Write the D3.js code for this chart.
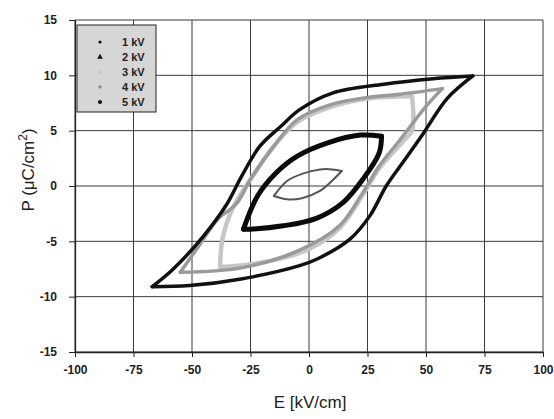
<!DOCTYPE html>
<meta charset="utf-8">
<script src="https://d3js.org/d3.v7.min.js"></script>
<style type="text/css">
  body { margin: 0; background: #fff; }
  text { font-family: "Liberation Sans", Arial, sans-serif; }
</style>
<body>
<svg width="554" height="419"></svg>
<script>

    // tick values
    let xTicks = [-100, -75, -50, -25, 0, 25, 50, 75, 100],
        yTicks = [-15, -10, -5, 0, 5, 10, 15]

    // loops: [E kV/cm, P uC/cm2], from the negative tip round the loop
    let loop1kV = [[-15,-0.9],[-9.4,0.45],[-3,1.1],[4.7,1.5],[10,1.5],[14,1.35],
                   [10,0.5],[4.7,-0.45],[-3,-1.1],[-9.4,-1.2],[-15,-0.9]]
    let loop2kV = [[-28,-3.9],[-22,-0.9],[-14,1.2],[-5,2.7],[8,3.9],[22,4.6],[31,4.5],
                   [30,3.0],[23,0.6],[14.5,-1.5],[3.4,-2.9],[-11,-3.6],[-25,-3.9],[-28,-3.9]]
    let loop3kV = [[-38,-7.3],[-37,-4.8],[-33,-2.2],[-25,0.6],[-15,3.6],[-5,5.8],[10,7.2],[25,7.9],[44,8.1],
                   [44,5.0],[40,4.0],[30,1.6],[23,-0.8],[13,-3.8],[0,-5.7],[-15,-6.7],[-30,-7.2],[-38,-7.3]]
    let loop4kV = [[-55,-7.8],[-48,-5.7],[-39,-3.0],[-31,-1.6],[-25,0.6],[-15,3.6],[-5,6.0],[10,7.4],[25,8.0],[39,8.3],[57,8.8],
                   [50,7.2],[39,4.2],[30,1.8],[23,-0.6],[13,-3.6],[-4,-5.8],[-29,-7.4],[-55,-7.8]]
    let loop5kV = [[-67,-9.1],[-58,-7.5],[-45,-4.5],[-35,-1.6],[-29,0.8],[-21,3.6],[-12,5.4],[-4,6.9],[10,8.4],[32,9.2],[53,9.7],[70,9.95],
                   [59,7.9],[49,4.8],[40,2.1],[33,0],[26,-2.7],[17.5,-4.8],[3.5,-6.6],[-4,-7.2],[-29,-8.4],[-51,-9.0],[-67,-9.1]]

    let seriesNames = ['1 kV', '2 kV', '3 kV', '4 kV', '5 kV']

    let svg = d3.select('svg'),
        mLeft = 75, mRight = 543, mTop = 20, mBottom = 352

    let x = d3.scaleLinear().domain([-100, 100]).range([mLeft, mRight]),
        y = d3.scaleLinear().domain([-15, 15]).range([mBottom, mTop])

    let g = svg.append('g')

    // grid
    g.selectAll('line.vg').data(xTicks).enter().append('line')
        .attr('x1', d=>x(d)).attr('x2', d=>x(d))
        .attr('y1', mTop).attr('y2', mBottom)
        .style('stroke', '#3a3a3a').style('stroke-width', 1)
    g.selectAll('line.hg').data(yTicks).enter().append('line')
        .attr('x1', mLeft).attr('x2', mRight)
        .attr('y1', d=>y(d)).attr('y2', d=>y(d))
        .style('stroke', '#3a3a3a').style('stroke-width', 1)

    // axes (plain hyphen minus like the original)
    let fmt = d => String(d)
    let xAxis = svg.append('g').attr('transform', `translate(0,${mBottom})`)
        .call(d3.axisBottom(x).tickValues(xTicks).tickFormat(fmt).tickSize(5).tickPadding(8).tickSizeOuter(0))
    let yAxis = svg.append('g').attr('transform', `translate(${mLeft},0)`)
        .call(d3.axisLeft(y).tickValues(yTicks).tickFormat(fmt).tickSize(6).tickPadding(12).tickSizeOuter(0))

    svg.selectAll('.domain').style('stroke', '#222').style('stroke-width', 1.3)
    svg.selectAll('.tick line').style('stroke', '#222')
    svg.selectAll('.tick text')
        .style('font-family', '"Liberation Sans", Arial, sans-serif')
        .style('font-size', '12px').style('font-weight', 'bold').style('fill', '#222')

    // loops
    let styles = {
        '1 kV': {color: '#555', width: 2},
        '2 kV': {color: '#0a0a0a', width: 5},
        '3 kV': {color: '#c6c6c6', width: 4.5},
        '4 kV': {color: '#9a9a9a', width: 3.5},
        '5 kV': {color: '#111', width: 3.5}
    }
    let loops = {'1 kV': loop1kV, '2 kV': loop2kV, '3 kV': loop3kV, '4 kV': loop4kV, '5 kV': loop5kV}

    let line = d3.line().x(d=>x(d[0])).y(d=>y(d[1])).curve(d3.curveCatmullRom.alpha(0.5))

    let drawOrder = ['3 kV', '4 kV', '5 kV', '2 kV', '1 kV']
    drawOrder.forEach(name => {
        let pts = loops[name],
            tip = d3.maxIndex(pts, d=>d[0]),
            branches = [pts.slice(0, tip+1), pts.slice(tip)]
        g.selectAll(null).data(branches).enter().append('path')
            .attr('d', line)
            .style('fill', 'none')
            .style('stroke', styles[name].color)
            .style('stroke-width', styles[name].width)
            .style('stroke-linejoin', 'round')
            .style('stroke-linecap', 'round')
    })

    // legend
    let lg = svg.append('g')
    lg.append('rect').attr('x', 77).attr('y', 25).attr('width', 79).attr('height', 87)
        .style('fill', '#d6d6d6').style('stroke', '#222').style('stroke-width', 1)

    let ly = d3.scalePoint().domain(seriesNames).range([42, 102])
    let markers = {
        '1 kV': {sym: d3.symbolCircle, size: 8, color: '#111'},
        '2 kV': {sym: d3.symbolTriangle, size: 14, color: '#111'},
        '3 kV': {sym: d3.symbolCircle, size: 8, color: '#c6c6c6'},
        '4 kV': {sym: d3.symbolCircle, size: 9, color: '#8a8a8a'},
        '5 kV': {sym: d3.symbolCircle, size: 14, color: '#111'}
    }
    lg.selectAll('path').data(seriesNames).enter().append('path')
        .attr('transform', d=>`translate(100,${ly(d)})`)
        .attr('d', d=>d3.symbol().type(markers[d].sym).size(markers[d].size)())
        .style('fill', d=>markers[d].color)
    lg.selectAll('text').data(seriesNames).enter().append('text')
        .attr('x', 122).attr('y', d=>ly(d)).attr('dy', '0.35em')
        .style('font-size', '11px').style('font-weight', 'bold').style('fill', '#222')
        .text(d=>d)

    // titles
    svg.append('text').attr('x', 310).attr('y', 408).attr('text-anchor', 'middle')
        .style('font-size', '17px').style('fill', '#222').text('E [kV/cm]')

    let yt = svg.append('text').attr('transform', 'translate(34,170) rotate(-90)')
        .attr('text-anchor', 'middle').style('font-size', '17px').style('fill', '#222')
    yt.append('tspan').text('P (\u03bcC/cm')
    yt.append('tspan').attr('dy', -7).style('font-size', '12px').text('2')
    yt.append('tspan').attr('dy', 7).text(')')

</script>
</body>
